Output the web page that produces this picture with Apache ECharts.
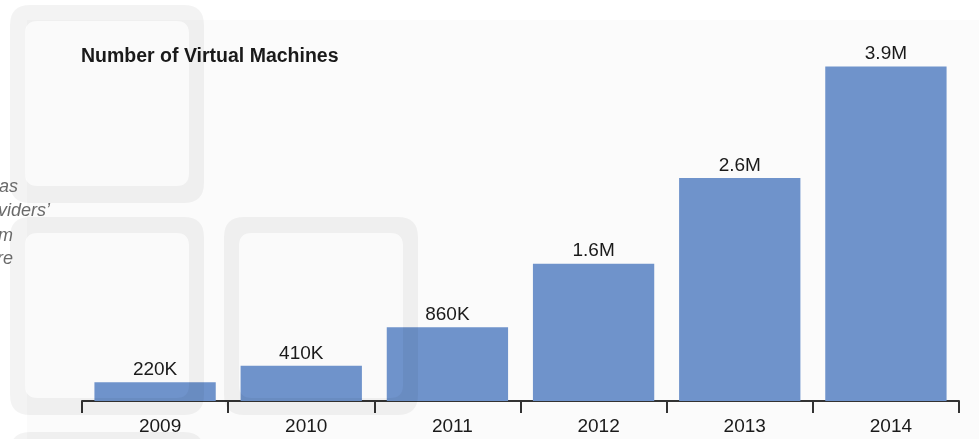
<!DOCTYPE html>
<html>
<head>
<meta charset="utf-8">
<script src="https://cdn.jsdelivr.net/npm/echarts@6/dist/echarts.min.js"></script>
<style>
html,body{margin:0;padding:0;background:#fff;}
#c{width:979px;height:439px;}
</style>
</head>
<body>
<div id="c"></div>
<script>
var title = 'Number of Virtual Machines';
var categories = ['2009', '2010', '2011', '2012', '2013', '2014'];
var vmCounts = [220000, 410000, 860000, 1600000, 2600000, 3900000];
var sideText = ['as', 'viders\u2019', 'm', 're'];

function fmt(v) {
  if (v >= 1e6) return (v / 1e6).toFixed(1) + 'M';
  return Math.round(v / 1e3) + 'K';
}

function rr(x, y, w, h, r, ccw) {
  if (!ccw) {
    return 'M' + (x + r) + ' ' + y + ' L' + (x + w - r) + ' ' + y +
      ' Q' + (x + w) + ' ' + y + ' ' + (x + w) + ' ' + (y + r) +
      ' L' + (x + w) + ' ' + (y + h - r) +
      ' Q' + (x + w) + ' ' + (y + h) + ' ' + (x + w - r) + ' ' + (y + h) +
      ' L' + (x + r) + ' ' + (y + h) +
      ' Q' + x + ' ' + (y + h) + ' ' + x + ' ' + (y + h - r) +
      ' L' + x + ' ' + (y + r) +
      ' Q' + x + ' ' + y + ' ' + (x + r) + ' ' + y + ' Z';
  }
  return 'M' + (x + r) + ' ' + y +
    ' Q' + x + ' ' + y + ' ' + x + ' ' + (y + r) +
    ' L' + x + ' ' + (y + h - r) +
    ' Q' + x + ' ' + (y + h) + ' ' + (x + r) + ' ' + (y + h) +
    ' L' + (x + w - r) + ' ' + (y + h) +
    ' Q' + (x + w) + ' ' + (y + h) + ' ' + (x + w) + ' ' + (y + h - r) +
    ' L' + (x + w) + ' ' + (y + r) +
    ' Q' + (x + w) + ' ' + y + ' ' + (x + w - r) + ' ' + y +
    ' L' + (x + r) + ' ' + y + ' Z';
}

var RingShape = echarts.graphic.extendPath(rr(0, 0, 194, 198, 20, false) + ' ' + rr(15, 16, 164, 165, 13, true), {});
echarts.graphic.registerShape('decoRing', RingShape);

var squares = [
  [10, 5], [10, 217], [224, 217], [10, 432]
];
var graphics = [];
graphics.push({type: 'rect', z: -10, silent: true, shape: {x: 27, y: 20, width: 960, height: 430}, style: {fill: '#fbfbfb'}});
squares.forEach(function (s) {
  graphics.push({type: 'decoRing', z: 100, silent: true, x: s[0], y: s[1],
    style: {fill: 'rgba(0,0,0,0.047)'}});
  graphics.push({type: 'rect', z: -5, silent: true,
    shape: {x: s[0] + 15, y: s[1] + 16, width: 164, height: 165, r: 13},
    style: {fill: '#fafafa'}});
});
var sideY = [187, 211, 236, 259];
var sideX = [18, 50, 13, 13];
sideText.forEach(function (t, i) {
  graphics.push({type: 'text', z: 101, silent: true, x: sideX[i], y: sideY[i],
    style: {text: t, fill: '#6a6a6a', font: 'italic 18px "Liberation Sans", Arial, sans-serif',
      align: 'right', verticalAlign: 'middle'}});
});

var chart = echarts.init(document.getElementById('c'), null, {renderer: 'canvas'});
chart.setOption({
  animation: false,
  backgroundColor: 'transparent',
  title: {
    text: title, left: 76, top: 42,
    textStyle: {fontFamily: 'Liberation Sans, Arial, sans-serif', fontSize: 19.5, fontWeight: 'bold', color: '#1a1a1a'}
  },
  graphic: graphics,
  grid: {left: 82, right: 20, top: 15, bottom: 38, containLabel: false},
  xAxis: {
    type: 'category', data: categories, boundaryGap: true,
    axisLine: {lineStyle: {color: '#333', width: 2}},
    axisTick: {show: true, length: 12, lineStyle: {color: '#333', width: 2}},
    axisLabel: {margin: 16, padding: [0, 0, 0, 10], fontFamily: 'Liberation Sans, Arial, sans-serif', fontSize: 19, color: '#1a1a1a'}
  },
  yAxis: {type: 'value', min: 0, max: 4500000, show: false, splitLine: {show: false}},
  series: [{
    type: 'bar', data: vmCounts, barCategoryGap: '17%',
    itemStyle: {color: '#6f93cb'},
    label: {show: true, position: 'top', distance: 3,
      formatter: function (p) { return fmt(p.value); },
      fontFamily: 'Liberation Sans, Arial, sans-serif', fontSize: 19, color: '#1a1a1a'}
  }]
});
</script>
</body>
</html>
